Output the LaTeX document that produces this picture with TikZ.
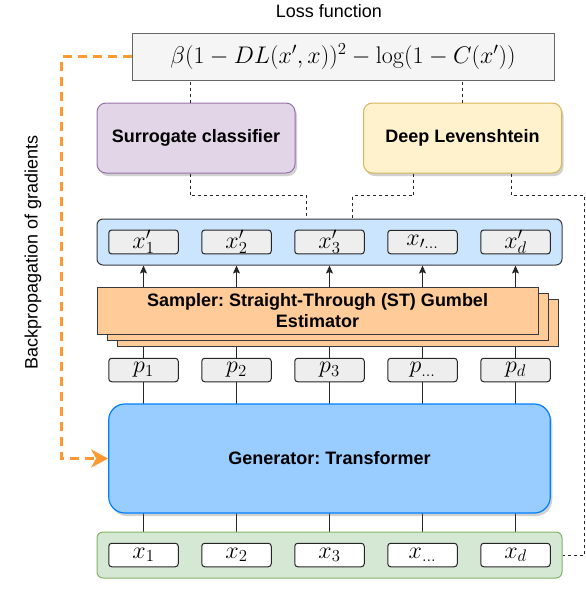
\documentclass[tikz,border=0pt]{standalone}
\usepackage{fix-cm}
\usepackage[no-math]{fontspec}
\setmainfont{Liberation Sans}
\frenchspacing
\usetikzlibrary{positioning,shadows,backgrounds,arrows.meta}

\definecolor{lossfill}{HTML}{F5F5F5}
\definecolor{lossdraw}{HTML}{666666}
\definecolor{surrfill}{HTML}{E1D5E7}
\definecolor{surrdraw}{HTML}{9673A6}
\definecolor{dlfill}{HTML}{FFF2CC}
\definecolor{dldraw}{HTML}{D6B656}
\definecolor{outfill}{HTML}{CCE5FF}
\definecolor{darkline}{HTML}{36393D}
\definecolor{sampfill}{HTML}{FFCC99}
\definecolor{genfill}{HTML}{99CCFF}
\definecolor{gendraw}{HTML}{007FFF}
\definecolor{infill}{HTML}{D5E8D4}
\definecolor{indraw}{HTML}{82B366}
\definecolor{cellfill}{HTML}{EEEEEE}
\definecolor{bporange}{HTML}{FF9933}

\tikzset{
  txt/.style={font=\fontsize{18}{21}\selectfont},
  boldtxt/.style={font=\fontsize{18}{21}\selectfont\bfseries},
  shade/.style={drop shadow={shadow xshift=2pt,shadow yshift=-3pt,opacity=0.3,fill=black!60}},
  lossbox/.style={draw=lossdraw,fill=lossfill,line width=1pt,minimum width=422pt,
    minimum height=47pt,inner sep=0pt,font=\fontsize{24}{28}\selectfont},
  model/.style={boldtxt,shade,rounded corners=9pt,line width=1pt,minimum width=198pt,
    minimum height=70pt,inner sep=0pt},
  row/.style={rounded corners=6pt,line width=1pt,minimum width=465pt,minimum height=46pt,inner sep=0pt},
  cell/.style={draw=black!85,fill=cellfill,rounded corners=3pt,line width=1pt,minimum width=69.5pt,
    minimum height=23.5pt,inner sep=0pt,font=\fontsize{24}{28}\selectfont},
  sampler/.style={boldtxt,draw=darkline,fill=sampfill,line width=1pt,minimum width=441pt,
    minimum height=47pt,inner sep=0pt,align=center,
    double copy shadow={shadow xshift=10pt,shadow yshift=-6pt}},
  gen/.style={boldtxt,shade,draw=gendraw,fill=genfill,rounded corners=16pt,line width=1.2pt,
    minimum width=441.5pt,minimum height=109pt,inner sep=0pt},
  link/.style={line width=1pt,black!85},
  dotline/.style={line width=1pt,black!85,dash pattern=on 3pt off 3pt},
  backprop/.style={line width=3pt,bporange,dash pattern=on 9pt off 6pt,
    -{Stealth[length=17pt,width=18pt,inset=5pt,sep=0pt]}}
}

\begin{document}
\begin{tikzpicture}[x=1pt,y=-1pt]
  \useasboundingbox (0,0) rectangle (586,614);

  % loss and models
  \node[txt] (title) at (329,11) {Loss function};
  \node[lossbox] (loss) at (343,56.5) {$\beta(1-DL(x',x))^2-\log(1-C(x'))$};
  \node[model,draw=surrdraw,fill=surrfill] (surr) at (196,138) {Surrogate classifier};
  \node[model,draw=dldraw,fill=dlfill] (dl) at (462.5,138) {Deep Levenshtein};

  % rows of tokens
  \node[row,draw=darkline,fill=outfill] (outrow) at (329.5,242) {};
  \node[sampler] (samp) at (317.5,310.5) {Sampler: Straight-Through (ST) Gumbel\\Estimator};
  \node[gen] (gen) at (329.5,458.5) {Generator: Transformer};
  \node[row,draw=indraw,fill=infill] (inrow) at (329.5,555) {};

  \foreach \i/\lo/\lp/\li in {1/{x'_1}/{p_1}/{x_1},2/{x'_2}/{p_2}/{x_2},3/{x'_3}/{p_3}/{x_3},
      4/{x_{\prime\ldots}}/{p_{\ldots}}/{x_{\ldots}},5/{x'_d}/{p_d}/{x_d}} {
    \node[cell] (o\i) at (143.5+93*\i-93,242) {$\lo$};
    \node[cell] (p\i) at (143.5+93*\i-93,370) {$\lp$};
    \node[cell,fill=white] (x\i) at (143.5+93*\i-93,555) {$\li$};
  }

  \begin{scope}[on background layer]
    \foreach \i in {1,...,5} {
      \draw[link] (x\i) -- (p\i);
      \draw[link,-{Stealth[length=8pt,width=7pt,inset=1.5pt]}] (p\i) -- (p\i |- outrow.south);
    }
  \end{scope}

  % dotted connections
  \draw[dotline] ([xshift=-6pt]surr.north) -- ([xshift=-6pt]surr.north |- loss.south);
  \draw[dotline] (dl.north) -- (dl.north |- loss.south);
  \draw[dotline] ([xshift=-6pt]surr.south) -- ++(0,22) -| ([xshift=-23pt]outrow.north);
  \draw[dotline] ([xshift=-49pt]dl.south) -- ++(0,22) -| ([xshift=23pt]outrow.north);
  \draw[dotline] ([xshift=49pt]dl.south) -- ++(0,22) -| ([xshift=22pt]inrow.east) -- (inrow.east);

  % gradient path
  \draw[backprop] (loss.west) -- ++(-70,0) |- (gen.west);
  \node[txt,rotate=90] (bplabel) at (33,252.5) {Backpropagation of gradients};
\end{tikzpicture}
\end{document}
